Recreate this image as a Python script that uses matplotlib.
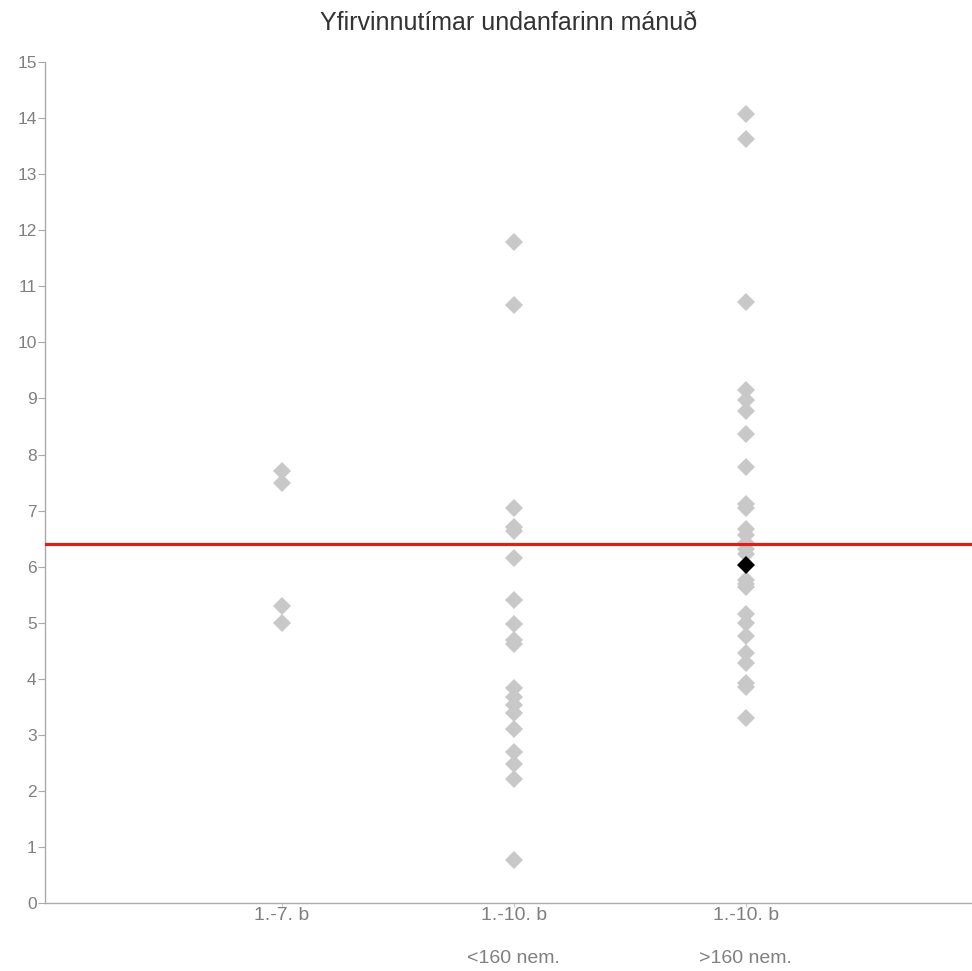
import matplotlib
matplotlib.use("Agg")
import matplotlib.pyplot as plt

plt.rcParams['font.family'] = ['Liberation Sans', 'DejaVu Sans']

# categories and values
categories = ["1.-7. b", "1.-10. b\n\n<160 nem.", "1.-10. b\n\n>160 nem."]
group_a = [7.70, 7.49, 5.29, 5.00]
group_b = [11.80, 10.67, 7.04, 6.70, 6.64, 6.16, 5.41, 4.97, 4.69, 4.62,
           3.84, 3.68, 3.53, 3.39, 3.11, 2.69, 2.48, 2.21, 0.76]
group_c = [14.07, 13.63, 10.73, 9.15, 8.98, 8.78, 8.37, 7.77, 7.11, 7.05,
           6.68, 6.57, 6.42, 6.32, 6.22, 5.77, 5.69, 5.63, 5.16, 4.99,
           4.76, 4.46, 4.29, 3.92, 3.86, 3.30]
highlight_group = 3
highlight_value = 6.03
average = 6.41
title = "Yfirvinnutímar undanfarinn mánuð"

fig = plt.figure(figsize=(9.72, 9.71), dpi=100)
ax = fig.add_axes([0.0463, 0.070, 0.9537, 0.866])

grey = "#c8c8c8"
for i, vals in enumerate([group_a, group_b, group_c]):
    ax.plot([i + 1] * len(vals), vals, linestyle="none", marker="D",
            markersize=9, color=grey, markeredgewidth=0, zorder=2)

ax.plot([highlight_group], [highlight_value], linestyle="none", marker="D",
        markersize=9, color="black", markeredgewidth=0, zorder=4)

ax.axhline(average, color="#d9201f", linewidth=2.3, zorder=3)

ax.set_xlim(-0.02, 3.974)
ax.set_ylim(0, 15)
ax.set_yticks(range(0, 16))
ax.set_xticks([1, 2, 3])
ax.set_xticklabels(categories, linespacing=1.34, va="top")

for side in ["top", "right"]:
    ax.spines[side].set_visible(False)
for side in ["left", "bottom"]:
    ax.spines[side].set_color("#aaaaaa")
    ax.spines[side].set_linewidth(1)

ax.tick_params(axis="y", length=5, color="#aaaaaa", labelcolor="#808080",
               labelsize=12.5, pad=1)
ax.tick_params(axis="x", length=3, color="#cccccc", labelcolor="#808080",
               labelsize=14, pad=0)

fig.text(0.523, 0.976, title, ha="center", va="center", fontsize=18,
         color="#333333")

fig.savefig("out.png", dpi=100)
